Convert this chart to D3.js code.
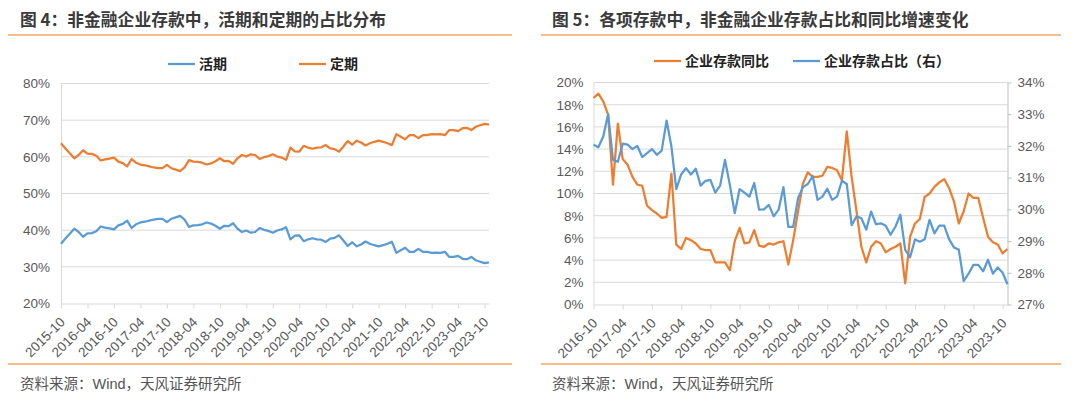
<!DOCTYPE html>
<html>
<head>
<meta charset="utf-8">
<script src="https://cdn.jsdelivr.net/npm/d3@7"></script>
<style>
  body { margin: 0; background: #fff; }
  svg { display: block; font-family: "Liberation Sans", Arial, "Noto Sans CJK SC", sans-serif; }
</style>
</head>
<body>
<svg id="chart" width="1080" height="398"></svg>
<script>
const fmtMonth = d3.timeFormat("%Y-%m");

// ---- chart 4: 活期 / 定期 share, 2015-10 .. 2023-11
const months4 = d3.timeMonth.range(new Date(2015, 9, 1), new Date(2023, 11, 1)).map(fmtMonth);
const huoqi = [
  36.3, 37.7, 39.0, 40.4, 39.5, 38.2, 39.1, 39.2, 39.7, 41.0,
  40.7, 40.5, 40.2, 41.3, 41.7, 42.6, 40.6, 41.6, 42.1, 42.3,
  42.6, 42.9, 43.1, 43.1, 42.2, 43.1, 43.5, 43.9, 42.9, 40.9,
  41.3, 41.4, 41.6, 42.1, 41.8, 41.2, 40.4, 41.2, 41.1, 41.9,
  40.4, 39.5, 39.9, 39.3, 39.5, 40.6, 40.1, 39.8, 39.3, 39.9,
  40.2, 40.8, 37.5, 38.5, 38.6, 37.0, 37.5, 37.8, 37.5, 37.4,
  36.8, 37.7, 37.9, 38.6, 37.2, 35.7, 36.7, 35.6, 36.1, 36.9,
  36.3, 35.9, 35.6, 35.9, 36.3, 36.8, 33.8, 34.5, 35.2, 34.1,
  34.1, 34.9, 34.1, 34.1, 33.8, 33.9, 33.8, 34.1, 32.7, 32.7,
  33.0, 32.2, 32.1, 32.7, 31.8, 31.4, 31.0, 31.2
];
const dingqi = [
  63.7, 62.3, 61.0, 59.6, 60.5, 61.8, 60.9, 60.8, 60.3, 59.0,
  59.3, 59.5, 59.8, 58.7, 58.3, 57.4, 59.4, 58.4, 57.9, 57.7,
  57.4, 57.1, 56.9, 56.9, 57.8, 56.9, 56.5, 56.1, 57.1, 59.1,
  58.7, 58.6, 58.4, 57.9, 58.2, 58.8, 59.6, 58.8, 58.9, 58.1,
  59.6, 60.5, 60.1, 60.7, 60.5, 59.4, 59.9, 60.2, 60.7, 60.1,
  59.8, 59.2, 62.5, 61.5, 61.4, 63.0, 62.5, 62.2, 62.5, 62.6,
  63.2, 62.3, 62.1, 61.4, 62.8, 64.3, 63.3, 64.4, 63.9, 63.1,
  63.7, 64.1, 64.4, 64.1, 63.7, 63.2, 66.2, 65.5, 64.8, 65.9,
  65.9, 65.1, 65.9, 65.9, 66.2, 66.1, 66.2, 65.9, 67.3, 67.3,
  67.0, 67.8, 67.9, 67.3, 68.2, 68.6, 69.0, 68.8
];
const xTicks4 = ["2015-10", "2016-04", "2016-10", "2017-04", "2017-10", "2018-04", "2018-10", "2019-04",
  "2019-10", "2020-04", "2020-10", "2021-04", "2021-10", "2022-04", "2022-10", "2023-04", "2023-10"];
const yTicks4 = [20, 30, 40, 50, 60, 70, 80];

// ---- chart 5: 企业存款同比 / 占比, 2016-10 .. 2023-11
const months5 = d3.timeMonth.range(new Date(2016, 9, 1), new Date(2023, 11, 1)).map(fmtMonth);
const tongbi = [
  18.6, 19.0, 18.3, 17.1, 10.8, 16.3, 13.1, 12.6, 11.5, 10.8,
  10.7, 8.9, 8.5, 8.2, 7.8, 7.9, 11.8, 5.4, 5.0, 6.0,
  5.8, 5.5, 5.0, 4.9, 4.9, 3.8, 3.8, 3.8, 3.1, 5.7,
  6.9, 5.5, 5.6, 6.7, 5.3, 5.2, 5.5, 5.4, 5.6, 5.7,
  3.6, 5.8, 8.4, 10.9, 11.9, 11.5, 11.5, 11.6, 12.4, 12.3,
  12.1, 11.2, 15.6, 11.5, 8.4, 5.2, 3.8, 5.2, 5.7, 5.5,
  4.7, 5.0, 5.2, 5.5, 1.9, 6.1, 7.3, 7.7, 9.7, 10.0,
  10.6, 11.0, 11.3, 10.5, 9.3, 7.3, 8.4, 10.0, 9.6, 9.6,
  7.8, 6.1, 5.6, 5.4, 4.6, 5.0
];
const zhanbi = [
  32.04, 31.96, 32.3, 33.0, 31.56, 31.5, 32.07, 32.04, 31.9, 32.0,
  31.65, 31.77, 31.9, 31.72, 31.85, 32.8, 31.98, 30.64, 31.1, 31.3,
  31.1, 31.28, 30.75, 30.9, 30.93, 30.53, 30.75, 31.56, 30.77, 29.88,
  30.64, 30.53, 30.4, 30.83, 29.99, 30.0, 30.14, 29.78, 29.99, 30.7,
  29.45, 29.45, 30.35, 30.7, 30.8, 31.05, 30.3, 30.4, 30.65, 30.3,
  30.4, 30.9, 30.8, 29.5, 29.78, 29.72, 29.36, 29.93, 29.53, 29.56,
  29.48, 29.2, 29.46, 29.83, 28.72, 28.49, 29.05, 28.98, 29.06, 29.67,
  29.24, 29.49, 29.49, 29.06, 28.8, 28.73, 27.74, 27.97, 28.25, 28.25,
  28.05, 28.41, 27.97, 28.17, 28.0, 27.64
];
const xTicks5 = ["2016-10", "2017-04", "2017-10", "2018-04", "2018-10", "2019-04", "2019-10", "2020-04",
  "2020-10", "2021-04", "2021-10", "2022-04", "2022-10", "2023-04", "2023-10"];
const yTicks5L = [0, 2, 4, 6, 8, 10, 12, 14, 16, 18, 20];
const yTicks5R = [27, 28, 29, 30, 31, 32, 33, 34];

const BLUE = "#5b9bd5";
const ORANGE = "#ed7d31";
const GRID = "#d9d9d9";
const LABEL = "#595959";
const RULE = "#f4a862";
const CJK = "'Noto Sans CJK SC', sans-serif";
const pct = (d) => d + "%";

const svg = d3.select("#chart");

// title, orange rules and source note around each panel
const drawFrame = (x0, x1, tx, title) => {
  svg.append("text").attr("x", tx).attr("y", 26)
    .attr("font-family", CJK).attr("font-size", 16.8).attr("font-weight", 700)
    .attr("fill", "#3a3a3a").text(title);
  [35, 364].forEach((y) =>
    svg.append("line").attr("x1", x0).attr("x2", x1).attr("y1", y).attr("y2", y)
      .attr("stroke", RULE).attr("stroke-width", 1.5));
  svg.append("text").attr("x", tx).attr("y", 389)
    .attr("font-family", "'Liberation Sans', 'Noto Sans CJK SC', sans-serif")
    .attr("font-size", 14.5).attr("fill", "#555").text("资料来源：Wind，天风证券研究所");
};

const drawLegend = (items, y) => {
  items.forEach((it) => {
    svg.append("line").attr("x1", it.x).attr("x2", it.x + 27).attr("y1", y).attr("y2", y)
      .attr("stroke", it.color).attr("stroke-width", 2.25);
    svg.append("text").attr("x", it.x + 31).attr("y", y).attr("dy", "0.36em")
      .attr("font-family", CJK).attr("font-size", 14).attr("font-weight", 700)
      .attr("fill", "#222").text(it.label);
  });
};

// bottom category axis with rotated month labels
const drawXAxis = (g, x, ticks, y0) => {
  const ax = g.append("g").attr("transform", `translate(0,${y0})`)
    .call(d3.axisBottom(x).tickValues(ticks).tickSize(5).tickSizeOuter(0));
  ax.select(".domain").attr("stroke", GRID);
  ax.selectAll(".tick line").attr("stroke", GRID);
  ax.selectAll(".tick text")
    .attr("x", 0).attr("y", 0).attr("dy", "0.35em")
    .attr("text-anchor", "end")
    .attr("transform", "translate(1,16) rotate(-45)")
    .attr("font-size", 13.5).attr("fill", LABEL);
};

const styleYAxis = (ax) => {
  ax.select(".domain").attr("stroke", GRID);
  ax.selectAll(".tick text").attr("font-size", 13.5).attr("fill", LABEL);
};

const lineOf = (x, y, vals) => d3.line().x((d, i) => x(i)).y((d) => y(d))(vals);

// ================= chart 4 =================
drawFrame(8, 512, 20, "图 4：非金融企业存款中，活期和定期的占比分布");
drawLegend([{ x: 168, color: BLUE, label: "活期" }, { x: 299, color: ORANGE, label: "定期" }], 64);

const g4 = svg.append("g");
const x4 = d3.scalePoint().domain(months4).range([61, 489]);
const xi4 = (i) => x4(months4[i]);
const y4 = d3.scaleLinear().domain([20, 80]).range([303.5, 83.5]);

g4.append("g").selectAll("line").data(yTicks4.slice(1)).join("line")
  .attr("x1", 61).attr("x2", 489).attr("y1", (d) => y4(d)).attr("y2", (d) => y4(d))
  .attr("stroke", GRID).attr("stroke-width", 1);

const yAx4 = g4.append("g").attr("transform", "translate(61,0)")
  .call(d3.axisLeft(y4).tickValues(yTicks4).tickFormat(pct).tickSize(0).tickPadding(11));
styleYAxis(yAx4);
drawXAxis(g4, x4, xTicks4, 303.5);

g4.append("path").attr("d", lineOf(xi4, y4, huoqi))
  .attr("fill", "none").attr("stroke", BLUE).attr("stroke-width", 2.25).attr("stroke-linejoin", "round");
g4.append("path").attr("d", lineOf(xi4, y4, dingqi))
  .attr("fill", "none").attr("stroke", ORANGE).attr("stroke-width", 2.25).attr("stroke-linejoin", "round");

// ================= chart 5 =================
drawFrame(541, 1061, 552, "图 5：各项存款中，非金融企业存款占比和同比增速变化");
drawLegend([{ x: 654, color: ORANGE, label: "企业存款同比" }, { x: 793, color: BLUE, label: "企业存款占比（右）" }], 61);

const g5 = svg.append("g");
const x5 = d3.scalePoint().domain(months5).range([593.5, 1007.5]);
const xi5 = (i) => x5(months5[i]);
const y5L = d3.scaleLinear().domain([0, 20]).range([304.5, 82.5]);
const y5R = d3.scaleLinear().domain([27, 34]).range([304.5, 82.5]);

g5.append("g").selectAll("line").data(yTicks5L.slice(1)).join("line")
  .attr("x1", 593.5).attr("x2", 1007.5).attr("y1", (d) => y5L(d)).attr("y2", (d) => y5L(d))
  .attr("stroke", GRID).attr("stroke-width", 1);

const yAx5L = g5.append("g").attr("transform", "translate(593.5,0)")
  .call(d3.axisLeft(y5L).tickValues(yTicks5L).tickFormat(pct).tickSize(0).tickPadding(10));
styleYAxis(yAx5L);

const yAx5R = g5.append("g").attr("transform", "translate(1007.5,0)")
  .call(d3.axisRight(y5R).tickValues(yTicks5R).tickFormat(pct).tickSize(4).tickSizeOuter(0).tickPadding(6));
styleYAxis(yAx5R);
yAx5R.select(".domain").attr("stroke", "#bfbfbf");
yAx5R.selectAll(".tick line").attr("stroke", "#bfbfbf");

drawXAxis(g5, x5, xTicks5, 304.5);

g5.append("path").attr("d", lineOf(xi5, y5L, tongbi))
  .attr("fill", "none").attr("stroke", ORANGE).attr("stroke-width", 2.25).attr("stroke-linejoin", "round");
g5.append("path").attr("d", lineOf(xi5, y5R, zhanbi))
  .attr("fill", "none").attr("stroke", BLUE).attr("stroke-width", 2.25).attr("stroke-linejoin", "round");
</script>
</body>
</html>
